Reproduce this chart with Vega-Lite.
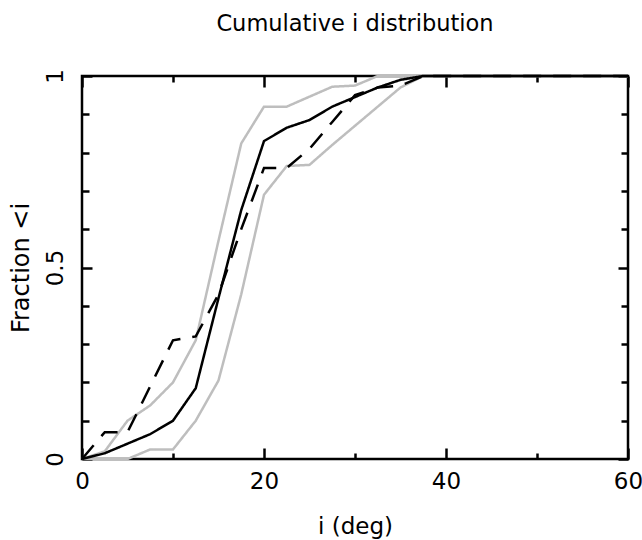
{
  "$schema": "https://vega.github.io/schema/vega-lite/v6.json",
  "width": 546,
  "height": 383,
  "autosize": {"type": "none"},
  "padding": {"left": 82, "top": 76, "right": 14, "bottom": 81},
  "background": "white",
  "config": {
    "view": {"stroke": "black", "strokeWidth": 2.5},
    "font": "DejaVu Sans",
    "axis": {"grid": false, "domain": false, "tickColor": "black", "tickWidth": 2.5, "labelColor": "black", "labelFont": "DejaVu Sans", "labelFontSize": 23, "titleFont": "DejaVu Sans", "titleFontSize": 23, "titleFontWeight": "normal", "titleColor": "black", "labelOverlap": false, "labelFlush": false}
  },
  "title": {"text": "Cumulative i distribution", "fontSize": 22.5, "fontWeight": "normal", "font": "DejaVu Sans", "color": "black", "offset": 15, "baseline": "alphabetic", "anchor": "middle"},
  "data": {"values": [
    {"series": "upper", "i": 0, "frac": 0},
    {"series": "upper", "i": 2.5, "frac": 0.02},
    {"series": "upper", "i": 5, "frac": 0.1},
    {"series": "upper", "i": 7.5, "frac": 0.14},
    {"series": "upper", "i": 10, "frac": 0.2},
    {"series": "upper", "i": 12.5, "frac": 0.31},
    {"series": "upper", "i": 15, "frac": 0.57},
    {"series": "upper", "i": 17.5, "frac": 0.824},
    {"series": "upper", "i": 20, "frac": 0.92},
    {"series": "upper", "i": 22.5, "frac": 0.92},
    {"series": "upper", "i": 25, "frac": 0.946},
    {"series": "upper", "i": 27.5, "frac": 0.972},
    {"series": "upper", "i": 30, "frac": 0.975},
    {"series": "upper", "i": 32.5, "frac": 1},
    {"series": "upper", "i": 60, "frac": 1},
    {"series": "lower", "i": 0, "frac": 0},
    {"series": "lower", "i": 5, "frac": 0},
    {"series": "lower", "i": 7.5, "frac": 0.025},
    {"series": "lower", "i": 10, "frac": 0.025},
    {"series": "lower", "i": 12.5, "frac": 0.1},
    {"series": "lower", "i": 15, "frac": 0.205},
    {"series": "lower", "i": 17.5, "frac": 0.43},
    {"series": "lower", "i": 20, "frac": 0.69},
    {"series": "lower", "i": 22.5, "frac": 0.765},
    {"series": "lower", "i": 25, "frac": 0.768},
    {"series": "lower", "i": 27.5, "frac": 0.82},
    {"series": "lower", "i": 30, "frac": 0.87},
    {"series": "lower", "i": 32.5, "frac": 0.92},
    {"series": "lower", "i": 35, "frac": 0.97},
    {"series": "lower", "i": 37.5, "frac": 1},
    {"series": "lower", "i": 60, "frac": 1},
    {"series": "median", "i": 0, "frac": 0},
    {"series": "median", "i": 2.5, "frac": 0.015},
    {"series": "median", "i": 5, "frac": 0.04},
    {"series": "median", "i": 7.5, "frac": 0.065},
    {"series": "median", "i": 10, "frac": 0.1},
    {"series": "median", "i": 12.5, "frac": 0.185},
    {"series": "median", "i": 15, "frac": 0.42},
    {"series": "median", "i": 17.5, "frac": 0.65},
    {"series": "median", "i": 20, "frac": 0.83},
    {"series": "median", "i": 22.5, "frac": 0.865},
    {"series": "median", "i": 25, "frac": 0.885},
    {"series": "median", "i": 27.5, "frac": 0.92},
    {"series": "median", "i": 30, "frac": 0.945},
    {"series": "median", "i": 32.5, "frac": 0.97},
    {"series": "median", "i": 35, "frac": 0.99},
    {"series": "median", "i": 37.5, "frac": 1},
    {"series": "median", "i": 60, "frac": 1},
    {"series": "observed", "i": 0, "frac": 0},
    {"series": "observed", "i": 2.5, "frac": 0.07},
    {"series": "observed", "i": 5, "frac": 0.07},
    {"series": "observed", "i": 7.5, "frac": 0.19},
    {"series": "observed", "i": 10, "frac": 0.31},
    {"series": "observed", "i": 12.5, "frac": 0.32},
    {"series": "observed", "i": 15, "frac": 0.43},
    {"series": "observed", "i": 17.5, "frac": 0.6},
    {"series": "observed", "i": 20, "frac": 0.76},
    {"series": "observed", "i": 22.5, "frac": 0.76},
    {"series": "observed", "i": 25, "frac": 0.81},
    {"series": "observed", "i": 27.5, "frac": 0.88},
    {"series": "observed", "i": 30, "frac": 0.95},
    {"series": "observed", "i": 32.5, "frac": 0.97},
    {"series": "observed", "i": 35, "frac": 0.975},
    {"series": "observed", "i": 37.5, "frac": 1},
    {"series": "observed", "i": 60, "frac": 1}
  ]},
  "layer": [
    {
      "mark": {"type": "line", "strokeWidth": 2.5},
      "encoding": {
        "x": {"field": "i", "type": "quantitative", "scale": {"domain": [0, 60], "nice": false, "zero": false},
          "axis": {"orient": "bottom", "values": [0, 10, 20, 30, 40, 50, 60], "format": "d",
            "tickSize": {"condition": {"test": "datum.value % 20 === 0", "value": -11}, "value": -6},
            "labelExpr": "datum.value % 20 === 0 ? datum.label : ''",
            "labelPadding": 22, "title": "i (deg)", "titlePadding": 17}},
        "y": {"field": "frac", "type": "quantitative", "scale": {"domain": [0, 1], "nice": false},
          "axis": {"orient": "left", "values": [0, 0.1, 0.2, 0.3, 0.4, 0.5, 0.6, 0.7, 0.8, 0.9, 1], "format": "~g",
            "tickSize": {"condition": {"test": "round(datum.value * 10) % 5 === 0", "value": -10}, "value": -7},
            "labelExpr": "round(datum.value * 10) % 5 === 0 ? datum.label : ''",
            "labelAngle": -90, "labelAlign": "center", "labelBaseline": "alphabetic", "labelPadding": 30,
            "title": "Fraction <i", "titleFontSize": 24, "titlePadding": 8}},
        "color": {"field": "series", "type": "nominal", "legend": null,
          "scale": {"domain": ["upper", "lower", "median", "observed"], "range": ["#bebebe", "#bebebe", "black", "black"]}},
        "strokeDash": {"field": "series", "type": "nominal", "legend": null,
          "scale": {"domain": ["upper", "lower", "median", "observed"], "range": [[1, 0], [1, 0], [1, 0], [18, 12]]}}
      }
    },
    {
      "mark": {"type": "line", "opacity": 0},
      "encoding": {
        "x": {"field": "i", "type": "quantitative", "scale": {"domain": [0, 60], "nice": false, "zero": false},
          "axis": {"orient": "top", "values": [0, 10, 20, 30, 40, 50, 60], "labels": false, "title": null,
            "tickSize": {"condition": {"test": "datum.value % 20 === 0", "value": -11}, "value": -6}}},
        "y": {"field": "frac", "type": "quantitative", "scale": {"domain": [0, 1], "nice": false},
          "axis": {"orient": "right", "values": [0, 0.1, 0.2, 0.3, 0.4, 0.5, 0.6, 0.7, 0.8, 0.9, 1], "labels": false, "title": null,
            "tickSize": {"condition": {"test": "round(datum.value * 10) % 5 === 0", "value": -10}, "value": -7}}},
        "detail": {"field": "series", "type": "nominal"}
      }
    }
  ],
  "resolve": {"axis": {"x": "independent", "y": "independent"}}
}
